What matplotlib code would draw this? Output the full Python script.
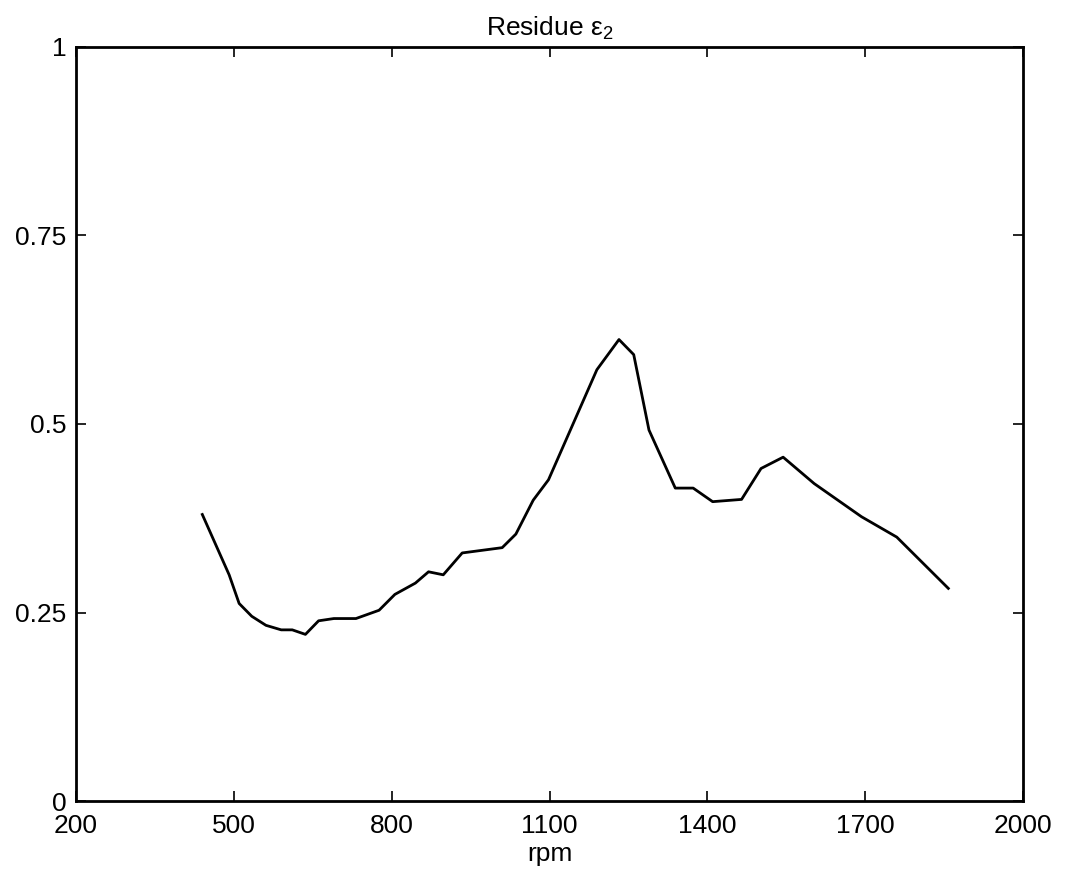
import matplotlib
matplotlib.use("Agg")
import matplotlib.pyplot as plt

# values
rpm = [440, 491, 510, 534, 561, 590, 611, 636, 661, 690, 732, 776, 806, 845,
       870, 898, 934, 1010, 1036, 1069, 1098, 1190, 1232, 1260, 1289, 1339,
       1373, 1410, 1465, 1502, 1544, 1603, 1693, 1760, 1858]
residue = [0.380, 0.300, 0.262, 0.245, 0.233, 0.227, 0.227, 0.221, 0.239,
           0.242, 0.242, 0.253, 0.274, 0.289, 0.304, 0.300, 0.329, 0.336,
           0.354, 0.399, 0.426, 0.572, 0.612, 0.592, 0.492, 0.415, 0.415,
           0.397, 0.400, 0.441, 0.456, 0.421, 0.377, 0.350, 0.282]

xticks = [200, 500, 800, 1100, 1400, 1700, 2000]
yticks = [0, 0.25, 0.5, 0.75, 1]
yticklabels = ["0", "0.25", "0.5", "0.75", "1"]

plt.rcParams['font.family'] = ['Liberation Sans', 'DejaVu Sans']
plt.rcParams['mathtext.fontset'] = 'custom'
plt.rcParams['mathtext.rm'] = 'Liberation Sans'

fig = plt.figure(figsize=(10.65, 8.86), dpi=100)
ax = fig.add_axes([0.0714, 0.0959, 0.8892, 0.8511])

ax.plot(rpm, residue, color="black", linewidth=2.0)

ax.set_xlim(200, 2000)
ax.set_ylim(0, 1)
ax.set_xticks(xticks)
ax.set_yticks(yticks)
ax.set_yticklabels(yticklabels)
ax.tick_params(direction="in", length=7, width=1.2, top=True, right=True,
               labelsize=19)
ax.tick_params(axis="x", pad=9)
ax.tick_params(axis="y", pad=7)
for s in ax.spines.values():
    s.set_linewidth(2.0)

ax.set_xlabel("rpm", fontsize=19, labelpad=3)
ax.set_title("Residue ε$_2$", fontsize=19, pad=8)

fig.savefig("out.png", dpi=100)
